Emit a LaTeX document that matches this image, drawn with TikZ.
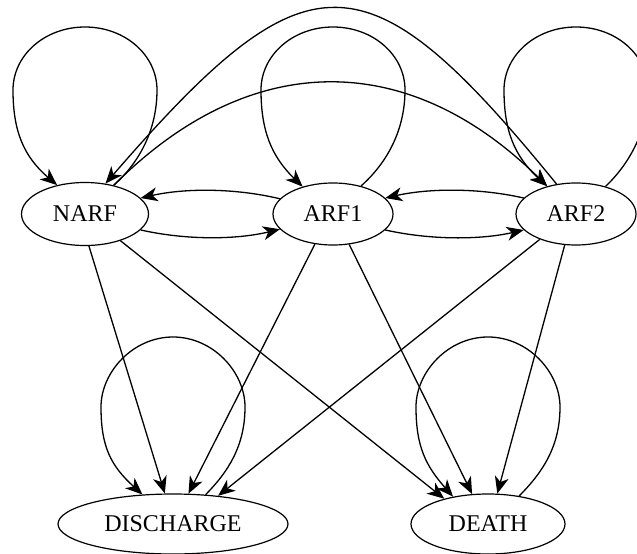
\documentclass[tikz,border=0pt]{standalone}
\usepackage{fontspec}
\setmainfont{Liberation Serif}
\usetikzlibrary{arrows.meta,shapes.geometric,calc}
% #1 node, #2 start angle, #3 end angle, #4 height of widest point
\newcommand\mkloop[4]{%
  \draw[conn] (#1.#2) .. controls ($(#1)+(55,-52)$) and ($(#1)+(72,{-#4+39})$) .. ($(#1)+(72,-#4)$)
    .. controls ($(#1)+(72,{-#4-35})$) and ($(#1)+(40,-187)$) .. ($(#1)+(0,-187)$)
    .. controls ($(#1)+(-40,-187)$) and ($(#1)+(-72,{-#4-35})$) .. ($(#1)+(-72,-#4)$)
    .. controls ($(#1)+(-72,{-#4+40})$) and ($(#1)+(-62,-58)$) .. (#1.#3);}
\tikzset{
  state/.style={ellipse, draw, line width=1.2pt, inner sep=0pt, font=\fontsize{24}{28}\selectfont},
  conn/.style={line width=1.3pt, -{Stealth[length=17pt,width=14pt,inset=5pt]}}
}
\begin{document}
\begin{tikzpicture}[x=1pt,y=-1pt]
\useasboundingbox (0,0) rectangle (637,554);
\clip (0,0) rectangle (637,554);
\node[state, minimum width=127pt, minimum height=63pt] (narf) at (85,214) {NARF};
\node[state, minimum width=120pt, minimum height=62pt] (arf1) at (333,214) {ARF1};
\node[state, minimum width=120pt, minimum height=62pt] (arf2) at (576,214) {ARF2};
\node[state, minimum width=230pt, minimum height=60pt] (dis) at (173,524) {DISCHARGE};
\node[state, minimum width=154pt, minimum height=60pt] (death) at (488,524) {DEATH};
% self loops
\mkloop{narf}{45.3}{134.7}{124}
\mkloop{arf1}{45.7}{138.2}{124}
\mkloop{arf2}{43.1}{136.9}{124}
\mkloop{dis}{42}{136}{117}
\mkloop{death}{42.6}{142.6}{117}
% long arcs
\draw[conn] (arf2.123) .. controls (366,-50) and (308,-50) .. (narf.56);
\draw[conn] (narf.45.3) .. controls (250,48.5) and (408,48.5) .. (arf2.136.9);
% horizontal arcs
\draw[conn] (narf.-16) .. controls (185,240) and (235,240) .. (arf1.-164);
\draw[conn] (arf1.164) .. controls (235,188) and (185,188) .. (narf.16);
\draw[conn] (arf1.-17) .. controls (430,240) and (480,240) .. (arf2.-163);
\draw[conn] (arf2.163) .. controls (480,188) and (430,188) .. (arf1.17);
% straight edges
\draw[conn] (narf.-83) -- (dis.105);
\draw[conn] (narf.-37) -- (death.150);
\draw[conn] (arf1.-121) -- (dis.63);
\draw[conn] (arf1.-62) -- (death.118.6);
\draw[conn] (arf2.-145) -- (dis.32);
\draw[conn] (arf2.-110) -- (death.73);
\end{tikzpicture}
\end{document}
